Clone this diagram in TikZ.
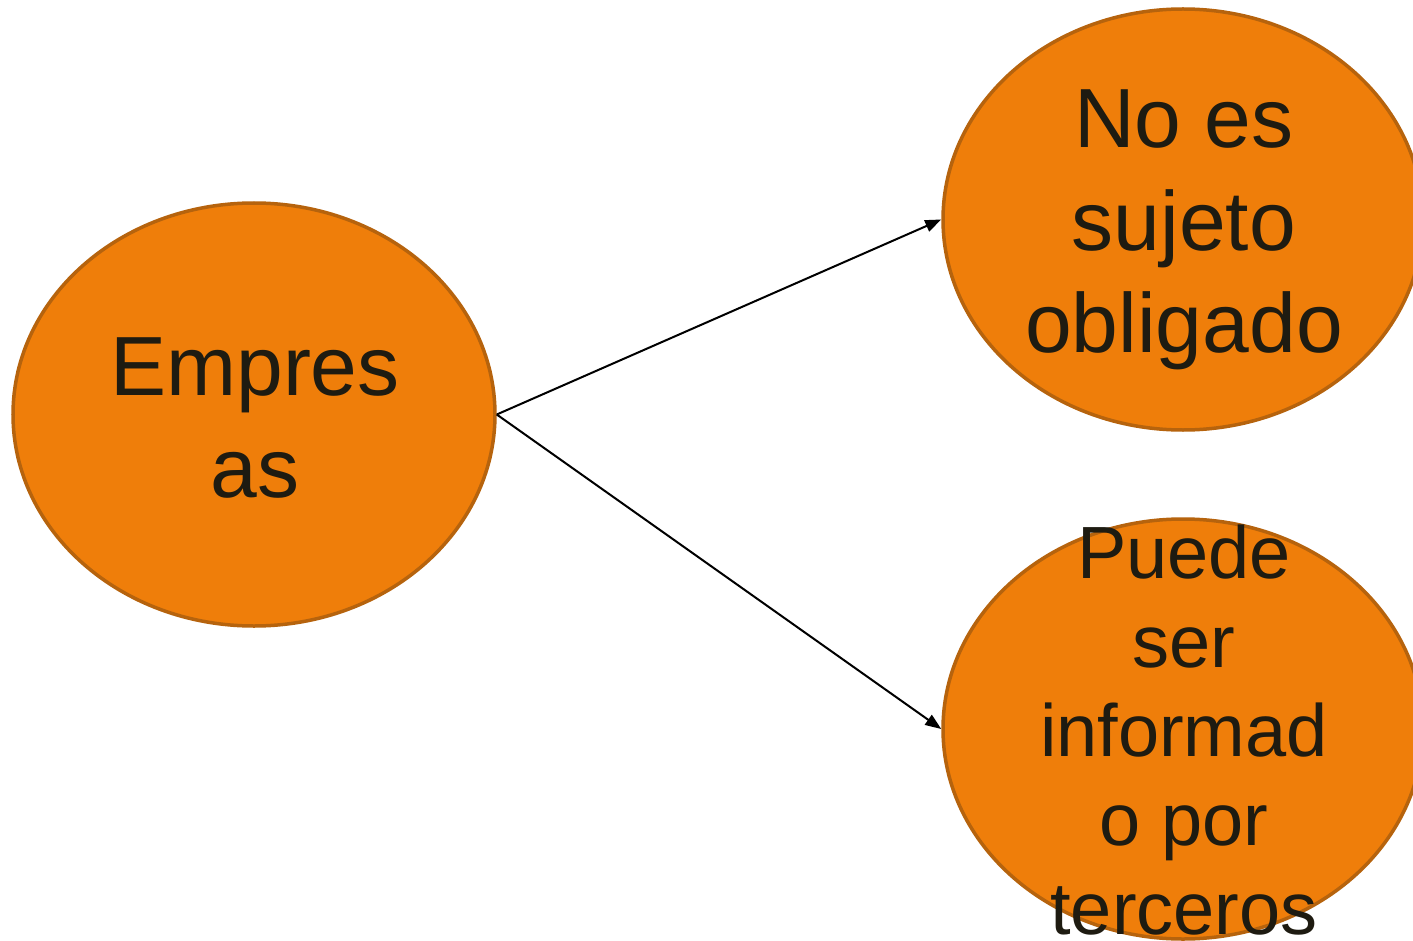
\documentclass[tikz,border=0pt]{standalone}
\usepackage{fontspec}
\setmainfont{Liberation Sans}
\usetikzlibrary{shapes.geometric,arrows.meta}
\definecolor{fillorange}{HTML}{EF7E0A}
\definecolor{edgeorange}{HTML}{B6630D}
\definecolor{txtdark}{HTML}{1E1B11}
\tikzset{
  bubble/.style={ellipse, draw=edgeorange, fill=fillorange, line width=3.5pt, inner sep=0pt},
  bigtxt/.style={text=txtdark, align=center, inner sep=0pt, text depth=0pt, anchor=south, font=\fontsize{84}{102.5}\selectfont},
  midtxt/.style={text=txtdark, align=center, inner sep=0pt, text depth=0pt, anchor=south, font=\fontsize{74}{89}\selectfont},
  arr/.style={draw=black, line width=2pt, -{Triangle[length=16pt,width=12pt]}}
}
\begin{document}
\begin{tikzpicture}[x=1pt,y=-1pt]
\useasboundingbox (0,0) rectangle (1413,941);
\node[bubble, minimum width=482pt, minimum height=423pt] (L) at (254,414.5) {};
\node[bubble, minimum width=480pt, minimum height=421pt] (T) at (1183,219.5) {};
\node[bubble, minimum width=480pt, minimum height=420pt] (B) at (1183,729) {};
\draw[arr] (L.east) -- (T.west);
\draw[arr] (L.east) -- (B.west);
\node[bigtxt] (Lt) at (255,498) {Empres\\as};
\node[bigtxt] (Tt) at (1184,353) {No es\\sujeto\\obligado};
\node[midtxt] (Bt) at (1184,935) {Puede\\ser\\informad\\o por\\terceros};
\end{tikzpicture}
\end{document}
